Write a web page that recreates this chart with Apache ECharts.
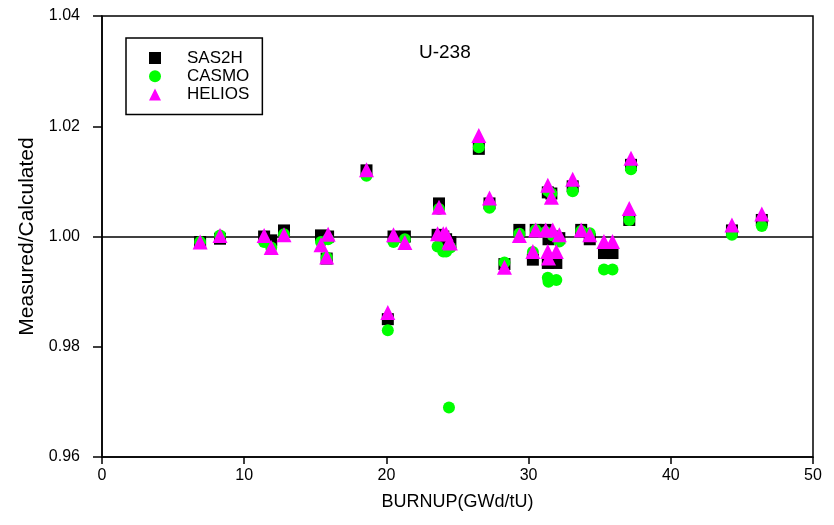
<!DOCTYPE html>
<html>
<head>
<meta charset="utf-8">
<script src="https://cdn.jsdelivr.net/npm/echarts@6/dist/echarts.min.js"></script>
<style>html,body{margin:0;padding:0;background:#fff}#c{width:834px;height:525px}</style>
</head>
<body>
<div id="c"></div>
<script>
var burnup = [6.9, 8.3, 11.4, 11.9, 12.8, 15.4, 15.9, 15.8, 18.6, 20.1, 20.5, 21.3, 23.7, 23.6, 24.0, 24.2, 24.4, 24.5, 26.5, 27.25, 28.3, 29.35, 30.3, 30.5, 31.2, 31.35, 31.6, 31.35, 31.4, 31.95, 31.7, 32.16, 33.1, 33.7, 34.3, 35.3, 35.9, 37.08, 37.2, 44.3, 46.4];
var sas2h  = [0.999, 0.9996, 1.000, 0.9993, 1.0011, 1.0002, 1.0000, 0.996, 1.012, 0.985, 1.000, 1.000, 1.006, 1.0003, 1.000, 0.9995, 0.9985, 0.999, 1.0159, 1.006, 0.995, 1.0012, 0.9958, 1.0012, 1.0012, 1.008, 1.0078, 0.9952, 0.9995, 0.9952, 1.0000, 0.9997, 1.0091, 1.0012, 0.9995, 0.997, 0.997, 1.003, 1.013, 1.0011, 1.003];
var casmo  = [0.999, 1.0002, 0.999, 0.998, 1.0004, 0.999, 0.9995, 0.9962, 1.011, 0.983, 0.999, 0.9995, 1.005, 0.9982, 0.9973, 0.9973, 0.969, 0.998, 1.0162, 1.0052, 0.9953, 1.0005, 0.9972, 1.0012, 1.0008, 1.0083, 1.0078, 0.9925, 0.9918, 0.9921, 1.0002, 0.9991, 1.0082, 1.0010, 1.0006, 0.994, 0.994, 1.003, 1.0122, 1.0003, 1.0019];
var helios = [0.999, 1.0002, 1.0002, 0.998, 1.0003, 0.9985, 1.0004, 0.9963, 1.0121, 0.9862, 1.0003, 0.9989, 1.0053, 1.0005, 1.0005, 1.0005, 0.999, 0.9988, 1.0183, 1.007, 0.9944, 1.0002, 0.9973, 1.0012, 1.0012, 1.0093, 1.0071, 0.9973, 0.9961, 0.9973, 1.0012, 1.0003, 1.0104, 1.0012, 1.0003, 0.9991, 0.9991, 1.0051, 1.0142, 1.0021, 1.0041];
var xTicks = [0, 10, 20, 30, 40, 50];
var yTicks = [0.96, 0.98, 1.00, 1.02, 1.04];

function pairs(vals){ return burnup.map(function(x,i){ return [x, vals[i]]; }); }
var FONT = 'Liberation Sans, Arial, sans-serif';
var chart = echarts.init(document.getElementById('c'), null, {renderer:'canvas'});
chart.setOption({
  animation: false,
  backgroundColor: '#fff',
  grid: {left: 102, right: 21, top: 16, bottom: 68, show: true, borderColor: '#000', borderWidth: 1.5, backgroundColor: 'transparent'},
  title: {text: 'U-238', left: 414, top: 38, textStyle: {fontFamily: FONT, fontSize: 19, fontWeight: 'normal', color: '#000'}},
  legend: {
    orient: 'vertical', left: 126, top: 38,
    padding: [11, 13, 11, 23],
    borderColor: '#000', borderWidth: 1.5,
    itemWidth: 12, itemHeight: 12, itemGap: 0.3,
    textStyle: {fontFamily: FONT, fontSize: 17, color: '#000', lineHeight: 18, padding: [0,0,0,21]},
    data: ['SAS2H', 'CASMO', 'HELIOS']
  },
  xAxis: {
    type: 'value', min: xTicks[0], max: xTicks[xTicks.length-1], interval: 10,
    name: 'BURNUP(GWd/tU)', nameLocation: 'middle', nameGap: 36,
    nameTextStyle: {fontFamily: FONT, fontSize: 18, color: '#000'},
    axisLine: {show: true, lineStyle: {color: '#000', width: 1.5}},
    axisTick: {show: true, inside: false, length: 7, lineStyle: {color: '#000', width: 1.5}},
    axisLabel: {fontFamily: FONT, fontSize: 16, color: '#000', margin: 11},
    splitLine: {show: false}
  },
  yAxis: {
    type: 'value', min: yTicks[0], max: yTicks[yTicks.length-1], interval: 0.02,
    name: 'Measured/Calculated', nameLocation: 'middle', nameGap: 56,
    nameTextStyle: {fontFamily: FONT, fontSize: 21, color: '#000'},
    axisLine: {show: true, lineStyle: {color: '#000', width: 1.5}},
    axisTick: {show: true, inside: false, length: 9, lineStyle: {color: '#000', width: 1.5}},
    axisLabel: {fontFamily: FONT, fontSize: 16, color: '#000', margin: 22, formatter: function(v){ return v.toFixed(2); }},
    splitLine: {show: false}
  },
  series: [
    {name: 'SAS2H', type: 'scatter', symbol: 'rect', symbolSize: 12, itemStyle: {color: '#000000', opacity: 1}, data: pairs(sas2h), z: 2,
     markLine: {silent: true, symbol: 'none', label: {show: false}, lineStyle: {color: '#000', width: 1.5, type: 'solid'}, data: [{yAxis: 1.0}], z: 1}},
    {name: 'CASMO', type: 'scatter', symbol: 'circle', symbolSize: 12, itemStyle: {color: '#00ff00', opacity: 1}, data: pairs(casmo), z: 3},
    {name: 'HELIOS', type: 'scatter', symbol: 'triangle', symbolSize: 15, itemStyle: {color: '#ff00ff', opacity: 1}, data: pairs(helios), z: 4}
  ]
});
</script>
</body>
</html>
